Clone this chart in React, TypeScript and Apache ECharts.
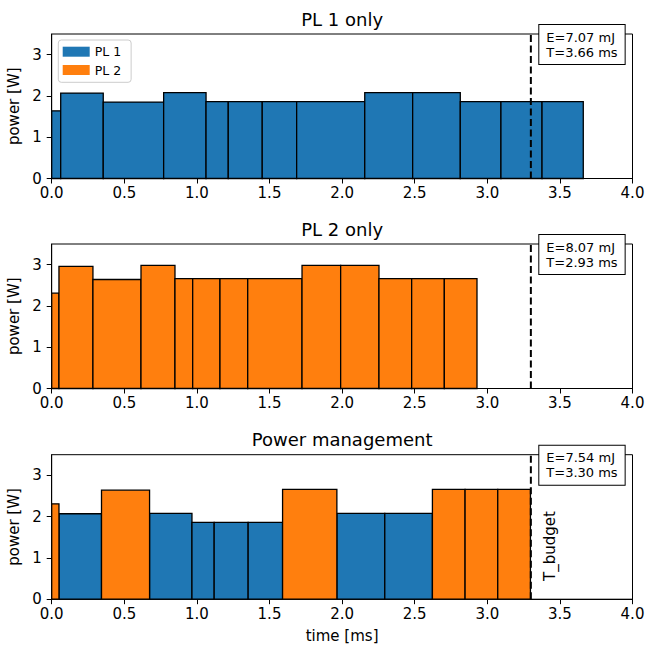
import React, { useEffect, useRef } from "react";
import * as echarts from "echarts";

// ---- data ----
const pl1Durations = [0.062, 0.293, 0.416, 0.292, 0.153, 0.234, 0.237, 0.469, 0.33, 0.328, 0.28, 0.283, 0.284];
const pl1Power = [1.64, 2.07, 1.85, 2.08, 1.86, 1.86, 1.86, 1.86, 2.08, 2.08, 1.86, 1.86, 1.86];
const pl2Durations = [0.05, 0.234, 0.331, 0.234, 0.122, 0.188, 0.191, 0.374, 0.266, 0.264, 0.225, 0.225, 0.225];
const pl2Power = [2.31, 2.96, 2.64, 2.98, 2.66, 2.66, 2.66, 2.66, 2.98, 2.98, 2.66, 2.66, 2.66];
// which power level was chosen per segment under power management
const managedChoice = [2, 1, 2, 1, 1, 1, 1, 2, 1, 1, 2, 2, 2];
const subplotTitles = ["PL 1 only", "PL 2 only", "Power management"];
const energyLabels = ["7.07", "8.07", "7.54"];
const timeLabels = ["3.66", "2.93", "3.30"];
const tBudget = 3.3;
const xTicks = [0, 0.5, 1, 1.5, 2, 2.5, 3, 3.5, 4];
const yTicks = [0, 1, 2, 3];

const BLUE = "#1f77b4";
const ORANGE = "#ff7f0e";
const FONT = "DejaVu Sans";

type Seg = [number, number, number];

function buildSegs(durs: number[], pows: number[]): Seg[] {
  let t = 0;
  return durs.map((d, i) => {
    const s: Seg = [t, t + d, pows[i]];
    t += d;
    return s;
  });
}

function buildManaged(): { pl1: Seg[]; pl2: Seg[] } {
  let t = 0;
  const pl1: Seg[] = [];
  const pl2: Seg[] = [];
  managedChoice.forEach((c, i) => {
    const d = c === 1 ? pl1Durations[i] : pl2Durations[i];
    const p = c === 1 ? pl1Power[i] : pl2Power[i];
    (c === 1 ? pl1 : pl2).push([t, t + d, p]);
    t += d;
  });
  return { pl1, pl2 };
}

const renderBar = (color: string) => (params: any, api: any) => {
  const p0 = api.coord([api.value(0), 0]);
  const p1 = api.coord([api.value(1), api.value(2)]);
  return {
    type: "rect",
    shape: { x: p0[0], y: p1[1], width: p1[0] - p0[0], height: p0[1] - p1[1] },
    style: { fill: color, stroke: "#000", lineWidth: 1.3 },
  };
};

export default function App() {
  const ref = useRef<HTMLDivElement>(null);
  useEffect(() => {
    if (!ref.current) return;
    const chart = echarts.init(ref.current, undefined, { renderer: "svg" });
    const gridTops = [34, 244, 454.7];
    const plotLeft = 51.7;
    const plotRight = 632.5;
    const plotH = 144.5;

    const seg1 = buildSegs(pl1Durations, pl1Power);
    const seg2 = buildSegs(pl2Durations, pl2Power);
    const managed = buildManaged();

    const grids = gridTops.map((t) => ({
      left: plotLeft,
      right: 645 - plotRight,
      top: t,
      height: plotH,
      show: true,
      borderColor: "#000",
      borderWidth: 1,
      backgroundColor: "transparent",
      containLabel: false,
      outerBoundsMode: "none",
    }));

    const xAxes = gridTops.map((_, i) => ({
      type: "value",
      gridIndex: i,
      min: 0,
      max: 4,
      interval: 0.5,
      axisLine: { show: true, onZero: false, lineStyle: { color: "#000", width: 1 } },
      axisTick: { show: true, length: 5, lineStyle: { color: "#000", width: 1 }, customValues: xTicks },
      axisLabel: {
        customValues: xTicks,
        formatter: (v: number) => v.toFixed(1),
        color: "#000",
        fontSize: 15,
        fontFamily: FONT,
        margin: 7,
      },
      splitLine: { show: false },
      ...(i === 2
        ? {
            name: "time [ms]",
            nameLocation: "middle",
            nameGap: 29,
            nameTextStyle: { color: "#000", fontSize: 15, fontFamily: FONT },
          }
        : {}),
    }));

    const yAxes = gridTops.map((_, i) => ({
      type: "value",
      gridIndex: i,
      min: 0,
      max: 3.5,
      interval: 1,
      axisLine: { show: true, onZero: false, lineStyle: { color: "#000", width: 1 } },
      axisTick: { show: true, length: 5, lineStyle: { color: "#000", width: 1 }, customValues: yTicks },
      axisLabel: {
        customValues: yTicks,
        color: "#000",
        fontSize: 15,
        fontFamily: FONT,
        margin: 10,
      },
      splitLine: { show: false },
      name: "power [W]",
      nameLocation: "middle",
      nameRotate: 90,
      nameGap: 27,
      nameTextStyle: { color: "#000", fontSize: 15, fontFamily: FONT },
    }));

    const barSeries = (name: string, color: string, data: Seg[], idx: number) => ({
      type: "custom",
      name,
      xAxisIndex: idx,
      yAxisIndex: idx,
      itemStyle: { color },
      renderItem: renderBar(color),
      encode: { x: [0, 1], y: 2 },
      data,
      z: 2,
    });

    const budgetLine = (idx: number) => ({
      type: "line",
      xAxisIndex: idx,
      yAxisIndex: idx,
      data: [
        [tBudget, 0],
        [tBudget, 3.5],
      ],
      symbol: "none",
      silent: true,
      lineStyle: { color: "#000", width: 2, type: [7, 3.5] },
      z: 5,
    });

    const graphics: any[] = [];
    subplotTitles.forEach((t, i) => {
      graphics.push({
        type: "text",
        x: (plotLeft + plotRight) / 2,
        y: gridTops[i] - 15,
        z: 100,
        style: {
          text: t,
          fontSize: 18,
          fontFamily: FONT,
          fill: "#000",
          align: "center",
          verticalAlign: "middle",
        },
      });
      graphics.push({
        type: "text",
        x: 539.3,
        y: gridTops[i] - 9,
        z: 100,
        style: {
          text: `E=${energyLabels[i]} mJ\nT=${timeLabels[i]} ms`,
          fontSize: 13,
          lineHeight: 15,
          fontFamily: FONT,
          fill: "#000",
          align: "left",
          verticalAlign: "top",
          backgroundColor: "#fff",
          borderColor: "#000",
          borderWidth: 1,
          padding: [4.5, 7, 4.5, 7],
        },
      });
    });
    graphics.push({
      type: "text",
      x: 550,
      y: 546,
      rotation: Math.PI / 2,
      z: 100,
      style: {
        text: "T_budget",
        fontSize: 15,
        fontFamily: FONT,
        fill: "#000",
        align: "center",
        verticalAlign: "middle",
      },
    });

    chart.setOption({
      animation: false,
      backgroundColor: "#fff",
      textStyle: { fontFamily: FONT },
      grid: grids,
      xAxis: xAxes,
      yAxis: yAxes,
      legend: {
        data: [
          { name: "PL 1", icon: "rect" },
          { name: "PL 2", icon: "rect" },
        ],
        orient: "vertical",
        left: 58.3,
        top: 40,
        itemWidth: 27,
        itemHeight: 10,
        itemGap: 4.3,
        padding: [4.7, 10, 5.3, 4.4],
        backgroundColor: "rgba(255,255,255,0.8)",
        borderColor: "#cccccc",
        borderWidth: 1,
        borderRadius: 3,
        itemStyle: { borderWidth: 0 },
        selectedMode: false,
        textStyle: { fontSize: 12.5, lineHeight: 14, color: "#000", fontFamily: FONT },
      },
      series: [
        barSeries("PL 1", BLUE, seg1, 0),
        budgetLine(0),
        barSeries("PL 2", ORANGE, seg2, 1),
        budgetLine(1),
        barSeries("PL 1", BLUE, managed.pl1, 2),
        barSeries("PL 2", ORANGE, managed.pl2, 2),
        budgetLine(2),
      ],
      graphic: graphics,
    });
    return () => chart.dispose();
  }, []);
  return (
    <div
      ref={ref}
      style={{ position: "fixed", left: 0, top: 0, width: 645, height: 650 }}
    />
  );
}
